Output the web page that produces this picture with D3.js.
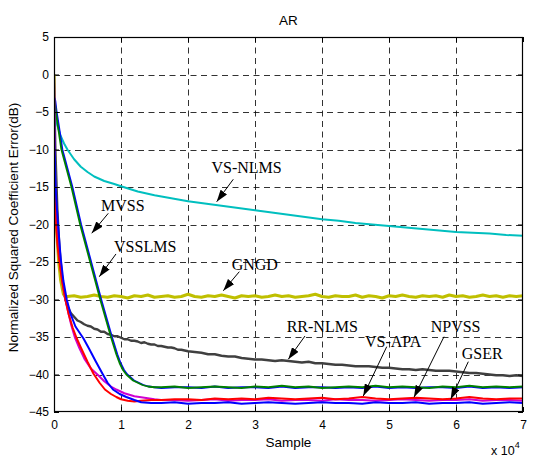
<!DOCTYPE html>
<html><head><meta charset="utf-8">
<script src="https://cdn.jsdelivr.net/npm/d3@7"></script>
<style>body{margin:0;background:#fff}svg{display:block}</style>
</head><body><svg id="c" width="534" height="457"></svg>
<script>
// ---- data (x in units of 10^4 samples, y in dB) ----
const xTicks = [0,1,2,3,4,5,6,7];
const yTicks = [5,0,-5,-10,-15,-20,-25,-30,-35,-40,-45];
const titleText = "AR";
const xLabel = "Sample";
const yLabel = "Normalized Squared Coefficient Error(dB)";

// VS-NLMS (cyan)
const vsnlms = [[0,-3],[0.02,-5.2],[0.05,-6.8],[0.1,-8.2],[0.15,-9.2],[0.2,-10],[0.3,-11.3],[0.4,-12.3],[0.5,-13.0],[0.6,-13.6],[0.75,-14.2],[0.9,-14.6],[1.0,-14.9],[1.25,-15.6],[1.5,-16.1],[1.75,-16.5],[2.0,-16.9],[2.25,-17.2],[2.5,-17.5],[2.75,-17.8],[3.0,-18.1],[3.25,-18.4],[3.5,-18.7],[3.75,-19.0],[4.0,-19.3],[4.25,-19.5],[4.5,-19.8],[4.75,-20.0],[5.0,-20.2],[5.25,-20.4],[5.5,-20.6],[5.75,-20.8],[6.0,-21.0],[6.25,-21.1],[6.5,-21.2],[6.75,-21.4],[7.0,-21.5]];

// RR-NLMS (dark gray)
const rrnlms = [[0,0],[0.02,-10],[0.05,-18],[0.08,-23],[0.12,-27],[0.16,-29.6],[0.2,-30.9],[0.25,-31.8],[0.3,-32.3],[0.35,-32.8],[0.4,-33.0],[0.45,-33.3],[0.5,-33.5],[0.55,-33.6],[0.6,-33.9],[0.65,-34.0],[0.7,-34.3],[0.75,-34.3],[0.8,-34.6],[0.85,-34.7],[0.9,-34.9],[0.95,-34.9],[1.0,-35.1],[1.05,-35.3],[1.1,-35.3],[1.15,-35.5],[1.2,-35.5],[1.25,-35.6],[1.3,-35.8],[1.35,-35.7],[1.4,-35.9],[1.45,-36.0],[1.5,-36.0],[1.55,-36.2],[1.6,-36.2],[1.65,-36.3],[1.7,-36.4],[1.75,-36.4],[1.8,-36.5],[1.85,-36.7],[1.9,-36.7],[1.95,-36.8],[2.0,-36.9],[2.1,-37.0],[2.2,-37.1],[2.3,-37.3],[2.4,-37.3],[2.5,-37.5],[2.6,-37.6],[2.7,-37.6],[2.8,-37.8],[2.9,-37.9],[3.0,-38.0],[3.1,-38.0],[3.2,-38.1],[3.3,-38.2],[3.4,-38.1],[3.5,-38.2],[3.6,-38.3],[3.7,-38.4],[3.8,-38.3],[3.9,-38.5],[4.0,-38.5],[4.1,-38.6],[4.2,-38.7],[4.3,-38.7],[4.4,-38.8],[4.5,-38.9],[4.6,-38.9],[4.7,-38.9],[4.8,-39.0],[4.9,-39.1],[5.0,-39.1],[5.1,-39.2],[5.2,-39.3],[5.3,-39.3],[5.4,-39.4],[5.5,-39.3],[5.6,-39.4],[5.7,-39.5],[5.8,-39.5],[5.9,-39.5],[6.0,-39.6],[6.1,-39.7],[6.2,-39.8],[6.3,-39.8],[6.4,-39.9],[6.5,-40.0],[6.6,-40.1],[6.7,-40.1],[6.8,-40.2],[6.9,-40.1],[7.0,-40.2]];

// GNGD (yellow): transient then flat values on a 0.1 grid starting at 0.2
const gngdHead = [[0,0],[0.005,-6],[0.01,-12],[0.02,-17],[0.04,-21],[0.07,-25],[0.1,-27.5],[0.14,-29.3],[0.18,-29.7]];
const gngdTail = [-29.6,-29.5,-29.7,-29.6,-29.4,-29.6,-29.7,-29.5,-29.6,-29.8,
 -29.5,-29.6,-29.4,-29.7,-29.6,-29.5,-29.7,-29.6,-29.3,-29.6,
 -29.7,-29.5,-29.6,-29.4,-29.6,-29.8,-29.5,-29.6,-29.5,-29.7,
 -29.6,-29.4,-29.6,-29.5,-29.7,-29.6,-29.5,-29.3,-29.6,-29.7,
 -29.5,-29.6,-29.6,-29.4,-29.7,-29.5,-29.6,-29.8,-29.5,-29.6,
 -29.4,-29.6,-29.7,-29.5,-29.6,-29.5,-29.7,-29.4,-29.6,-29.5,
 -29.7,-29.6,-29.4,-29.6,-29.5,-29.7,-29.5,-29.6,-29.5];

// steady-state tails on a 0.2 grid from 1.6 to 7.0
const mvssHead = [[0,-3],[0.02,-3.5],[0.04,-5],[0.075,-7],[0.125,-10],[0.275,-15],[0.405,-20],[0.555,-25],[0.705,-30],[0.865,-35],[0.945,-37.3],[0.995,-38.5],[1.045,-39.4],[1.095,-40],[1.145,-40.4],[1.195,-40.8],[1.265,-41.1],[1.335,-41.4],[1.415,-41.6],[1.5,-41.7]];
const mvssTail = [-41.8,-41.7,-41.7,-41.8,-41.6,-41.8,-41.7,-41.7,-41.8,-41.6,-41.8,-41.7,-41.7,-41.8,-41.7,-41.8,-41.6,-41.8,-41.7,-41.8,-41.7,-41.7,-41.8,-41.6,-41.8,-41.7,-41.8,-41.7];

const vsslmsHead = [[0,-3],[0.01,-3.5],[0.03,-5],[0.06,-7],[0.11,-10],[0.26,-15],[0.39,-20],[0.54,-25],[0.69,-30],[0.85,-35],[0.93,-37.3],[0.98,-38.5],[1.03,-39.4],[1.08,-40],[1.13,-40.4],[1.18,-40.8],[1.25,-41.1],[1.32,-41.4],[1.4,-41.6],[1.5,-41.7]];
const vsslmsTail = [-41.7,-41.6,-41.8,-41.7,-41.6,-41.7,-41.8,-41.6,-41.7,-41.5,-41.7,-41.6,-41.8,-41.7,-41.6,-41.7,-41.5,-41.7,-41.6,-41.7,-41.8,-41.6,-41.7,-41.5,-41.7,-41.6,-41.7,-41.6];

const magentaHead = [[0,0],[0.005,-5],[0.01,-11],[0.02,-16],[0.04,-20],[0.07,-23.5],[0.1,-26],[0.14,-28.5],[0.17,-30],[0.22,-32],[0.26,-33.5],[0.31,-35],[0.38,-36.5],[0.46,-38],[0.55,-39.2],[0.66,-40.1],[0.75,-40.9],[0.85,-41.6],[0.93,-42],[1.05,-42.5],[1.2,-42.9],[1.35,-43.1],[1.5,-43.3]];
const magentaTail = [-43.4,-43.4,-43.5,-43.4,-43.3,-43.5,-43.4,-43.4,-43.3,-43.5,-43.4,-43.4,-43.5,-43.3,-43.4,-43.4,-43.5,-43.4,-43.3,-43.4,-43.5,-43.4,-43.4,-43.3,-43.5,-43.4,-43.4,-43.5];

const redHead = [[0,0],[0.005,-6],[0.01,-12],[0.02,-17],[0.03,-20],[0.05,-22.5],[0.08,-25],[0.12,-27.5],[0.17,-30],[0.22,-32],[0.28,-33.8],[0.34,-35.2],[0.4,-36.4],[0.5,-38.3],[0.59,-39.9],[0.68,-41.1],[0.76,-42],[0.85,-42.6],[0.93,-43],[1.0,-43.3],[1.1,-43.5],[1.2,-43.6],[1.3,-43.5],[1.45,-43.4]];
const redTail = [-43.4,-43.3,-43.3,-43.4,-43.2,-43.3,-43.2,-43.3,-43.1,-43.2,-43.3,-43.2,-43.1,-43.3,-43.2,-43.0,-43.2,-43.3,-43.2,-43.1,-43.2,-43.3,-43.2,-43.0,-43.2,-43.3,-43.2,-43.2];

const blueHead = [[0,0],[0.005,-5],[0.01,-10],[0.03,-16],[0.06,-20],[0.1,-24.5],[0.14,-27.5],[0.19,-30],[0.25,-32],[0.32,-33.6],[0.44,-35.2],[0.52,-36.5],[0.62,-38.2],[0.73,-40],[0.8,-41.1],[0.88,-42],[0.98,-42.6],[1.08,-43],[1.2,-43.4],[1.3,-43.7],[1.45,-43.8]];
const blueTail = [-43.8,-43.7,-43.9,-43.8,-43.8,-43.7,-43.9,-43.8,-43.7,-43.8,-43.9,-43.8,-43.7,-43.8,-43.8,-43.9,-43.7,-43.8,-43.8,-43.7,-43.9,-43.8,-43.8,-43.7,-43.9,-43.8,-43.7,-43.8];

// annotation labels: text anchor point, arrow start, arrow tip (data units)
const annotations = [
  {text:"VS-NLMS", at:[2.35,-13.13], from:[2.676,-13.97], to:[2.428,-16.96]},
  {text:"MVSS",    at:[0.701,-18.16], from:[0.81,-18.51], to:[0.563,-21.17]},
  {text:"VSSLMS",  at:[0.896,-23.63], from:[0.925,-23.93], to:[0.676,-26.96]},
  {text:"GNGD",    at:[2.652,-26.07], from:[2.766,-26.29], to:[2.527,-28.83]},
  {text:"RR-NLMS", at:[3.473,-34.29], from:[3.746,-34.87], to:[3.497,-37.97]},
  {text:"VS-APA",  at:[4.642,-36.29], from:[4.966,-36.29], to:[4.616,-42.87]},
  {text:"NPVSS",   at:[5.622,-34.29], from:[5.821,-34.96], to:[5.373,-43.04]},
  {text:"GSER",    at:[6.085,-37.97], from:[6.184,-38.29], to:[5.921,-43.31]}
];

// ---- build ----
const tailGrid02 = d3.range(28).map(i => 1.6 + i*0.2);
const tailGrid01 = d3.range(69).map(i => 0.2 + i*0.1);
const join = (head, tail, grid) => head.concat(tail.map((v,i)=>[grid[i], v]));

const series = [
  {name:"RR-NLMS", color:"#404040", w:2.4, data: rrnlms},
  {name:"VS-NLMS", color:"#00BFBF", w:2, data: vsnlms},
  {name:"GNGD", color:"#BFBF00", w:3, data: join(gngdHead, gngdTail, tailGrid01)},
  {name:"MVSS", color:"#0000FF", w:1.8, data: join(mvssHead, mvssTail, tailGrid02)},
  {name:"VSSLMS", color:"#008000", w:1.8, data: join(vsslmsHead, vsslmsTail, tailGrid02)},
  {name:"magenta", color:"#D000D0", w:2, data: join(magentaHead, magentaTail, tailGrid02)},
  {name:"red", color:"#FF0000", w:2, data: join(redHead, redTail, tailGrid02)},
  {name:"blue", color:"#0000FF", w:2, data: join(blueHead, blueTail, tailGrid02)}
];

const L = 54, R = 523, T = 37, B = 412;
const x = d3.scaleLinear().domain([0,7]).range([L,R]);
const y = d3.scaleLinear().domain([-45,5]).range([B,T]);
const svg = d3.select("#c");
const sans = "'Liberation Sans', Arial, Helvetica, sans-serif";
const serif = "'Liberation Serif', 'Times New Roman', serif";

// grid
const g = svg.append("g");
g.selectAll(".gx").data(xTicks.slice(1,-1)).join("line")
  .attr("x1", d=>Math.round(x(d))+0.5).attr("x2", d=>Math.round(x(d))+0.5)
  .attr("y1", T).attr("y2", B)
  .attr("stroke","#000").attr("stroke-width",1).attr("stroke-dasharray","6,4.5").attr("opacity",0.8);
g.selectAll(".gy").data(yTicks.slice(1,-1)).join("line")
  .attr("y1", d=>Math.round(y(d))+0.5).attr("y2", d=>Math.round(y(d))+0.5)
  .attr("x1", L).attr("x2", R)
  .attr("stroke","#000").attr("stroke-width",1).attr("stroke-dasharray","6,4.5").attr("opacity",0.8);

// clip
svg.append("clipPath").attr("id","clip").append("rect").attr("x",L).attr("y",T).attr("width",R-L).attr("height",B-T);

const line = d3.line().x(d=>x(d[0])).y(d=>y(d[1]));
svg.append("g").attr("clip-path","url(#clip)")
  .selectAll("path").data(series).join("path")
  .attr("d", d=>line(d.data)).attr("fill","none")
  .attr("stroke", d=>d.color).attr("stroke-width", d=>d.w)
  .attr("stroke-linejoin","round");

// axes
const ax = svg.append("g").attr("transform",`translate(0,${B})`)
  .call(d3.axisBottom(x).tickValues(xTicks).tickFormat(d3.format("d")).tickSize(-5).tickPadding(8));
const ay = svg.append("g").attr("transform",`translate(${L},0)`)
  .call(d3.axisLeft(y).tickValues(yTicks).tickFormat(d3.format("d")).tickSize(-5).tickPadding(5));
const axTop = svg.append("g").attr("transform",`translate(0,${T})`)
  .call(d3.axisTop(x).tickValues(xTicks).tickSize(-5).tickFormat(""));
const ayR = svg.append("g").attr("transform",`translate(${R},0)`)
  .call(d3.axisRight(y).tickValues(yTicks).tickSize(-5).tickFormat(""));
[ax,ay,axTop,ayR].forEach(a=>{
  a.select(".domain").remove();
  a.selectAll("text").attr("font-family",sans).attr("font-size",12).attr("fill","#000");
  a.selectAll("line").attr("stroke","#000");
});
svg.append("rect").attr("x",L+0.5).attr("y",T+0.5).attr("width",R-L-1).attr("height",B-T-1)
  .attr("fill","none").attr("stroke","#000").attr("stroke-width",1.2);

// titles
svg.append("text").attr("x",(L+R)/2).attr("y",25).attr("text-anchor","middle")
  .attr("font-family",sans).attr("font-size",13.5).text(titleText);
svg.append("text").attr("x",(L+R)/2).attr("y",447).attr("text-anchor","middle")
  .attr("font-family",sans).attr("font-size",13.5).text(xLabel);
svg.append("text").attr("transform",`translate(18,${(T+B)/2 + 3}) rotate(-90)`).attr("text-anchor","middle")
  .attr("font-family",sans).attr("font-size",13.5).text(yLabel);
const ex = svg.append("text").attr("x",491).attr("y",455).attr("font-family",sans).attr("font-size",12.5);
ex.append("tspan").text("x 10");
ex.append("tspan").attr("dy",-7).attr("font-size",9).text("4");

// annotations
svg.append("defs").append("marker").attr("id","ah").attr("viewBox","0 0 12 8")
  .attr("refX",12).attr("refY",4).attr("markerWidth",12).attr("markerHeight",8)
  .attr("markerUnits","userSpaceOnUse").attr("orient","auto")
  .append("path").attr("d","M0,0 L12,4 L0,8 Z").attr("fill","#000");
const an = svg.append("g");
an.selectAll("line").data(annotations).join("line")
  .attr("x1",d=>x(d.from[0])).attr("y1",d=>y(d.from[1]))
  .attr("x2",d=>x(d.to[0])).attr("y2",d=>y(d.to[1]))
  .attr("stroke","#000").attr("stroke-width",1).attr("marker-end","url(#ah)");
an.selectAll("text").data(annotations).join("text")
  .attr("x",d=>x(d.at[0])).attr("y",d=>y(d.at[1]))
  .attr("font-family",serif).attr("font-size",16).attr("fill","#000")
  .text(d=>d.text);
</script></body></html>
